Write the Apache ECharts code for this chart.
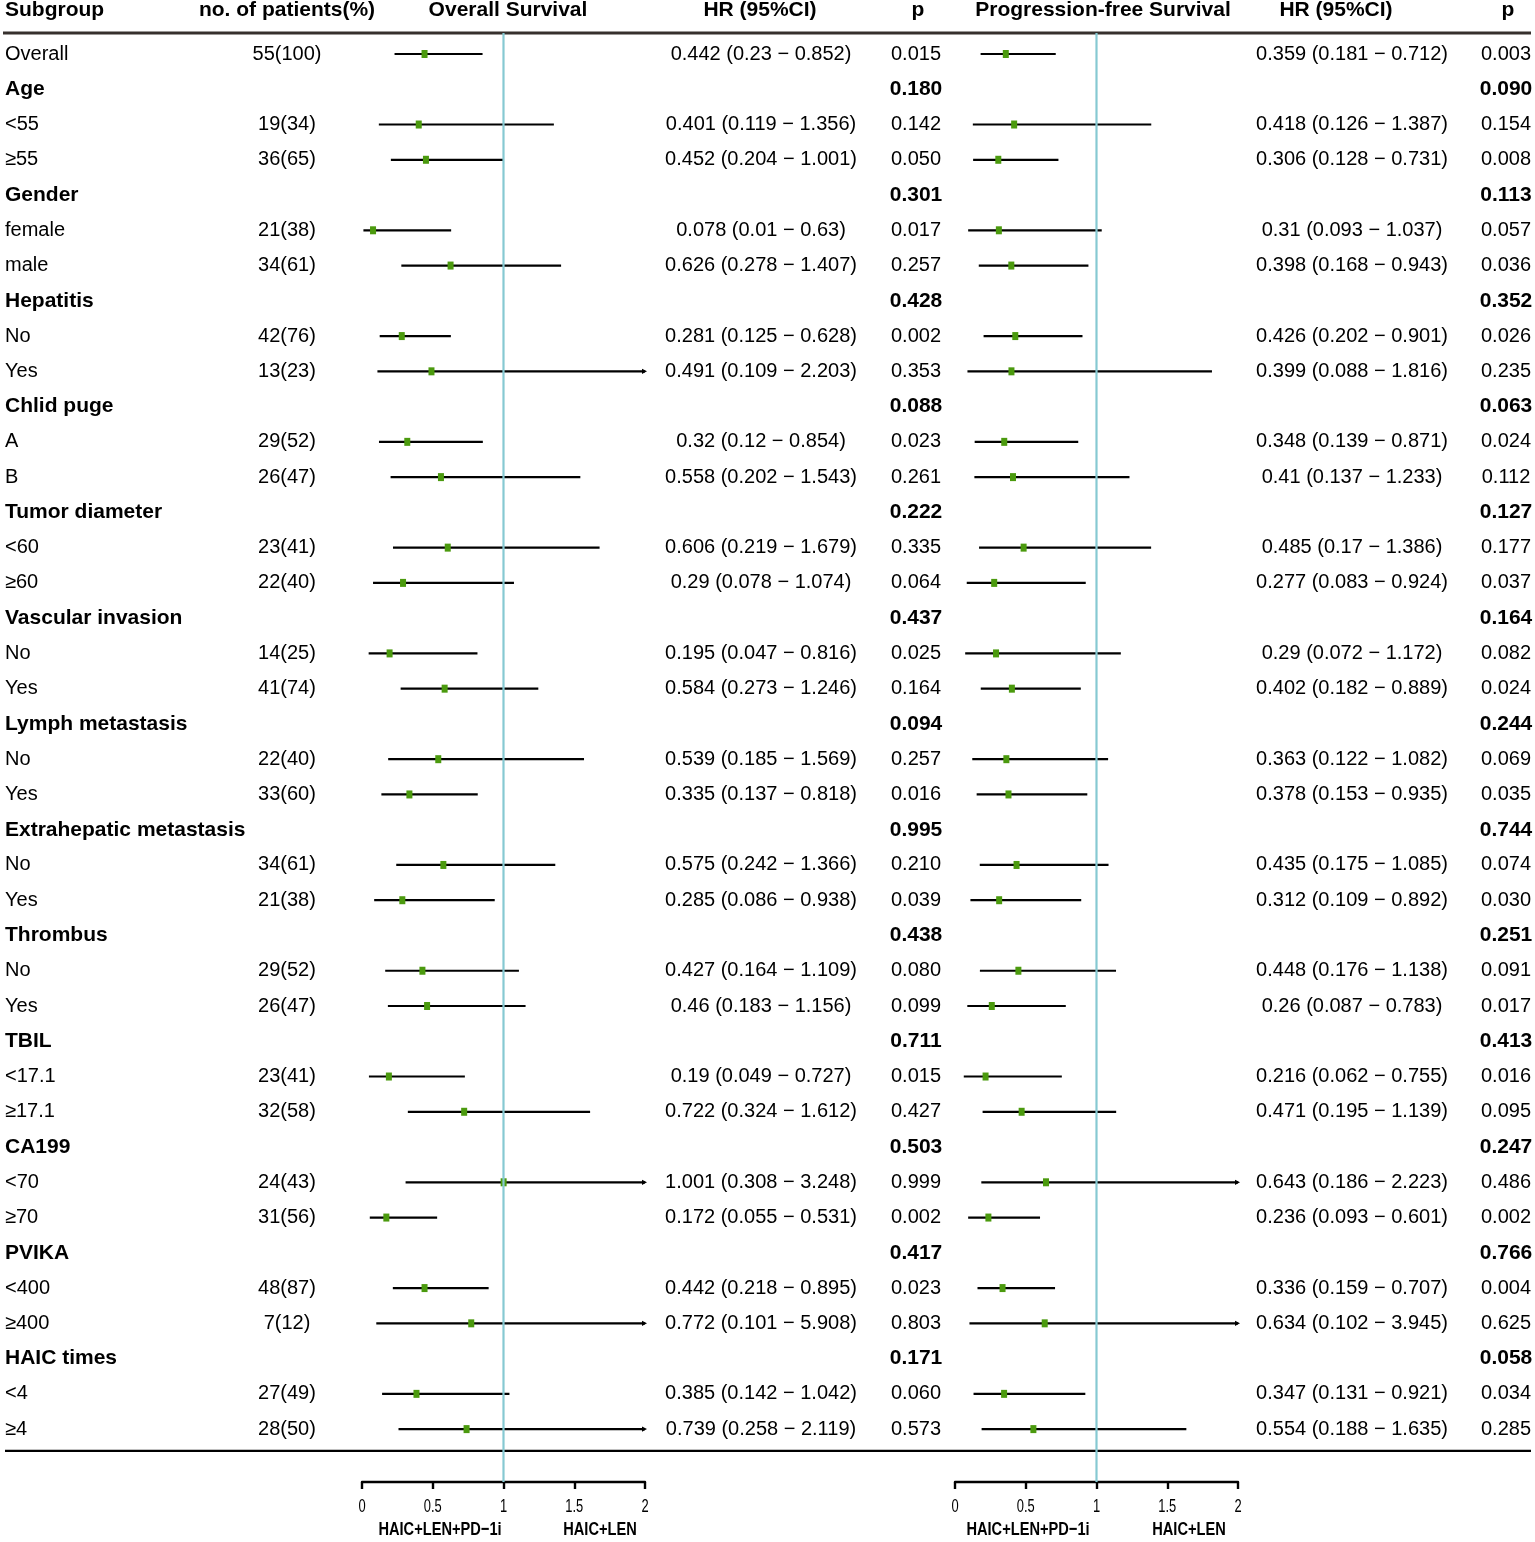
<!DOCTYPE html>
<html><head><meta charset="utf-8">
<script src="https://cdn.jsdelivr.net/npm/echarts@6/dist/echarts.min.js"></script>
<style>html,body{margin:0;padding:0;background:#fff}#c{width:1535px;height:1542px}</style>
</head><body><div id="c"></div><script>
// ---------------- data ----------------
const subgroups = ['Overall','Age','<55','≥55','Gender','female','male','Hepatitis','No','Yes','Chlid puge','A','B','Tumor diameter','<60','≥60','Vascular invasion','No','Yes','Lymph metastasis','No','Yes','Extrahepatic metastasis','No','Yes','Thrombus','No','Yes','TBIL','<17.1','≥17.1','CA199','<70','≥70','PVIKA','<400','≥400','HAIC times','<4','≥4'];
const isGroup = [0,1,0,0,1,0,0,1,0,0,1,0,0,1,0,0,1,0,0,1,0,0,1,0,0,1,0,0,1,0,0,1,0,0,1,0,0,1,0,0];
const patients = ['55(100)',null,'19(34)','36(65)',null,'21(38)','34(61)',null,'42(76)','13(23)',null,'29(52)','26(47)',null,'23(41)','22(40)',null,'14(25)','41(74)',null,'22(40)','33(60)',null,'34(61)','21(38)',null,'29(52)','26(47)',null,'23(41)','32(58)',null,'24(43)','31(56)',null,'48(87)','7(12)',null,'27(49)','28(50)'];

const osHR = [0.442,null,0.401,0.452,null,0.078,0.626,null,0.281,0.491,null,0.32,0.558,null,0.606,0.29,null,0.195,0.584,null,0.539,0.335,null,0.575,0.285,null,0.427,0.46,null,0.19,0.722,null,1.001,0.172,null,0.442,0.772,null,0.385,0.739];
const osLo = [0.23,null,0.119,0.204,null,0.01,0.278,null,0.125,0.109,null,0.12,0.202,null,0.219,0.078,null,0.047,0.273,null,0.185,0.137,null,0.242,0.086,null,0.164,0.183,null,0.049,0.324,null,0.308,0.055,null,0.218,0.101,null,0.142,0.258];
const osHi = [0.852,null,1.356,1.001,null,0.63,1.407,null,0.628,2.203,null,0.854,1.543,null,1.679,1.074,null,0.816,1.246,null,1.569,0.818,null,1.366,0.938,null,1.109,1.156,null,0.727,1.612,null,3.248,0.531,null,0.895,5.908,null,1.042,2.119];
const osP = ['0.015','0.180','0.142','0.050','0.301','0.017','0.257','0.428','0.002','0.353','0.088','0.023','0.261','0.222','0.335','0.064','0.437','0.025','0.164','0.094','0.257','0.016','0.995','0.210','0.039','0.438','0.080','0.099','0.711','0.015','0.427','0.503','0.999','0.002','0.417','0.023','0.803','0.171','0.060','0.573'];

const pfsHR = [0.359,null,0.418,0.306,null,0.31,0.398,null,0.426,0.399,null,0.348,0.41,null,0.485,0.277,null,0.29,0.402,null,0.363,0.378,null,0.435,0.312,null,0.448,0.26,null,0.216,0.471,null,0.643,0.236,null,0.336,0.634,null,0.347,0.554];
const pfsLo = [0.181,null,0.126,0.128,null,0.093,0.168,null,0.202,0.088,null,0.139,0.137,null,0.17,0.083,null,0.072,0.182,null,0.122,0.153,null,0.175,0.109,null,0.176,0.087,null,0.062,0.195,null,0.186,0.093,null,0.159,0.102,null,0.131,0.188];
const pfsHi = [0.712,null,1.387,0.731,null,1.037,0.943,null,0.901,1.816,null,0.871,1.233,null,1.386,0.924,null,1.172,0.889,null,1.082,0.935,null,1.085,0.892,null,1.138,0.783,null,0.755,1.139,null,2.223,0.601,null,0.707,3.945,null,0.921,1.635];
const pfsP = ['0.003','0.090','0.154','0.008','0.113','0.057','0.036','0.352','0.026','0.235','0.063','0.024','0.112','0.127','0.177','0.037','0.164','0.082','0.024','0.244','0.069','0.035','0.744','0.074','0.030','0.251','0.091','0.017','0.413','0.016','0.095','0.247','0.486','0.002','0.766','0.004','0.625','0.058','0.034','0.285'];

const headers = ['Subgroup','no. of patients(%)','Overall Survival','HR (95%CI)','p','Progression-free Survival','HR (95%CI)','p'];
const xTicks = [0, 0.5, 1, 1.5, 2];
const captions = ['HAIC+LEN+PD−1i', 'HAIC+LEN'];

// ---------------- layout ----------------
const FONT = '"Liberation Sans", Arial, Helvetica, sans-serif';
const Y_MIN = -1.5315, Y_MAX = 40.5;
const HEADER_ROW = -1.25, TOP_RULE = -0.596, BOTTOM_RULE = 39.62;

const textItems = [];
const hdrPos = [[5,'left'],[287,'center'],[508,'center'],[760,'center'],[918,'center'],[1103,'center'],[1336,'center'],[1508,'center']];
headers.forEach((h,i)=>textItems.push({x:hdrPos[i][0], row:HEADER_ROW, text:h, bold:true, align:hdrPos[i][1]}));
const fmtCI = (h,l,u) => `${h} (${l} − ${u})`;
subgroups.forEach((s,i)=>{
  const g = !!isGroup[i];
  textItems.push({x:5, row:i, text:s, bold:g, align:'left'});
  if (patients[i]) textItems.push({x:287, row:i, text:patients[i], bold:false, align:'center'});
  if (osHR[i]!=null) textItems.push({x:761, row:i, text:fmtCI(osHR[i],osLo[i],osHi[i]), bold:false, align:'center'});
  textItems.push({x:916, row:i, text:osP[i], bold:g, align:'center'});
  if (pfsHR[i]!=null) textItems.push({x:1352, row:i, text:fmtCI(pfsHR[i],pfsLo[i],pfsHi[i]), bold:false, align:'center'});
  textItems.push({x:1506, row:i, text:pfsP[i], bold:g, align:'center'});
});

function forestData(hr, lo, hi){
  const d = [];
  hr.forEach((v,i)=>{ if (v!=null) d.push([i, v, lo[i], hi[i]]); });
  return d;
}

function forestItem(params, api){
  const row = api.value(0), hr = api.value(1), lo = api.value(2), hi = api.value(3);
  const pL = api.coord([Math.max(lo,0), row]);
  const pR = api.coord([Math.min(hi,2), row]);
  const pC = api.coord([hr, row]);
  const y = pC[1];
  const children = [{
    type:'line', shape:{x1:pL[0], y1:y, x2:pR[0], y2:y},
    style:{stroke:'#000', lineWidth:2.2}
  }];
  if (hi > 2) {
    children.push({type:'polygon', shape:{points:[[pR[0]+2,y],[pR[0]-3,y-2.6],[pR[0]-3,y+2.6]]}, style:{fill:'#000'}});
  }
  children.push({type:'rect', shape:{x:pC[0]-3, y:y-4, width:6, height:8}, style:{fill:'#4b9a0e'}, z2:5});
  return {type:'group', children};
}

function tickLabelItem(params, api){
  const v = api.value(0);
  const p = api.coord([v, Y_MAX]);
  return {type:'text', x:p[0], y:p[1]+25, scaleX:0.68,
    style:{text:String(xTicks[params.dataIndex]), align:'center', verticalAlign:'middle',
      fontFamily:FONT, fontSize:19, fill:'#000'}};
}

function xAxisForest(gi){
  return {gridIndex:gi, type:'value', min:0, max:2, interval:0.5, position:'bottom',
    axisLine:{show:true, onZero:false, lineStyle:{color:'#000', width:2.4}},
    axisTick:{show:true, inside:false, length:7, lineStyle:{color:'#000', width:2.4}},
    axisLabel:{show:false},
    splitLine:{show:false}};
}
function yAxisHidden(gi){
  return {gridIndex:gi, type:'value', inverse:true, min:Y_MIN, max:Y_MAX, show:false, splitLine:{show:false}};
}
function caption(text, x){
  return {type:'text', x:x, y:1530, scaleX:0.77,
    style:{text:text, align:'center', verticalAlign:'middle', fontFamily:FONT, fontSize:19, fontWeight:'bold', fill:'#000'}};
}

const chart = echarts.init(document.getElementById('c'), null, {renderer:'canvas'});
chart.setOption({
  animation:false,
  backgroundColor:'#fff',
  grid:[
    {left:0, width:1535, top:0, height:1482, outerBoundsMode:'none', containLabel:false},
    {left:362, width:283, top:0, height:1482, outerBoundsMode:'none', containLabel:false},
    {left:955, width:283, top:0, height:1482, outerBoundsMode:'none', containLabel:false}
  ],
  xAxis:[
    {gridIndex:0, type:'value', min:0, max:1535, show:false, splitLine:{show:false}},
    xAxisForest(1), xAxisForest(2)
  ],
  yAxis:[yAxisHidden(0), yAxisHidden(1), yAxisHidden(2)],
  series:[
    {type:'custom', xAxisIndex:0, yAxisIndex:0, clip:false, silent:true,
     data:textItems.map(t=>[t.x, t.row]), encode:{x:0, y:1},
     renderItem:(params, api)=>{
       const t = textItems[params.dataIndex];
       const p = api.coord([t.x, t.row]);
       return {type:'text', x:p[0], y:p[1], style:{text:t.text, align:t.align, verticalAlign:'middle',
         fontFamily:FONT, fontSize:t.bold?21:20, fontWeight:t.bold?'bold':'normal', fill:'#000'}};
     }},
    {type:'line', xAxisIndex:0, yAxisIndex:0, symbol:'none', silent:true, z:3,
     data:[[3,TOP_RULE],[1531,TOP_RULE]], lineStyle:{color:'#36302d', width:3}},
    {type:'line', xAxisIndex:0, yAxisIndex:0, symbol:'none', silent:true, z:3,
     data:[[5,BOTTOM_RULE],[1531,BOTTOM_RULE]], lineStyle:{color:'#000', width:2.2}},
    {type:'custom', xAxisIndex:1, yAxisIndex:1, clip:false, silent:true, z:4,
     data:forestData(osHR, osLo, osHi), encode:{x:[1,2,3], y:0}, renderItem:forestItem},
    {type:'custom', xAxisIndex:2, yAxisIndex:2, clip:false, silent:true, z:4,
     data:forestData(pfsHR, pfsLo, pfsHi), encode:{x:[1,2,3], y:0}, renderItem:forestItem},
    {type:'custom', xAxisIndex:1, yAxisIndex:1, clip:false, silent:true, z:4,
     data:xTicks.map(v=>[v]), encode:{x:0}, renderItem:tickLabelItem},
    {type:'custom', xAxisIndex:2, yAxisIndex:2, clip:false, silent:true, z:4,
     data:xTicks.map(v=>[v]), encode:{x:0}, renderItem:tickLabelItem},
    {type:'line', xAxisIndex:1, yAxisIndex:1, symbol:'none', silent:true, z:5,
     data:[[1,TOP_RULE],[1,Y_MAX]], lineStyle:{color:'#86c9d2', width:2.2}},
    {type:'line', xAxisIndex:2, yAxisIndex:2, symbol:'none', silent:true, z:5,
     data:[[1,TOP_RULE],[1,Y_MAX]], lineStyle:{color:'#86c9d2', width:2.2}}
  ],
  graphic:[
    caption(captions[0], 440), caption(captions[1], 600),
    caption(captions[0], 1028), caption(captions[1], 1189)
  ]
});
</script></body></html>
